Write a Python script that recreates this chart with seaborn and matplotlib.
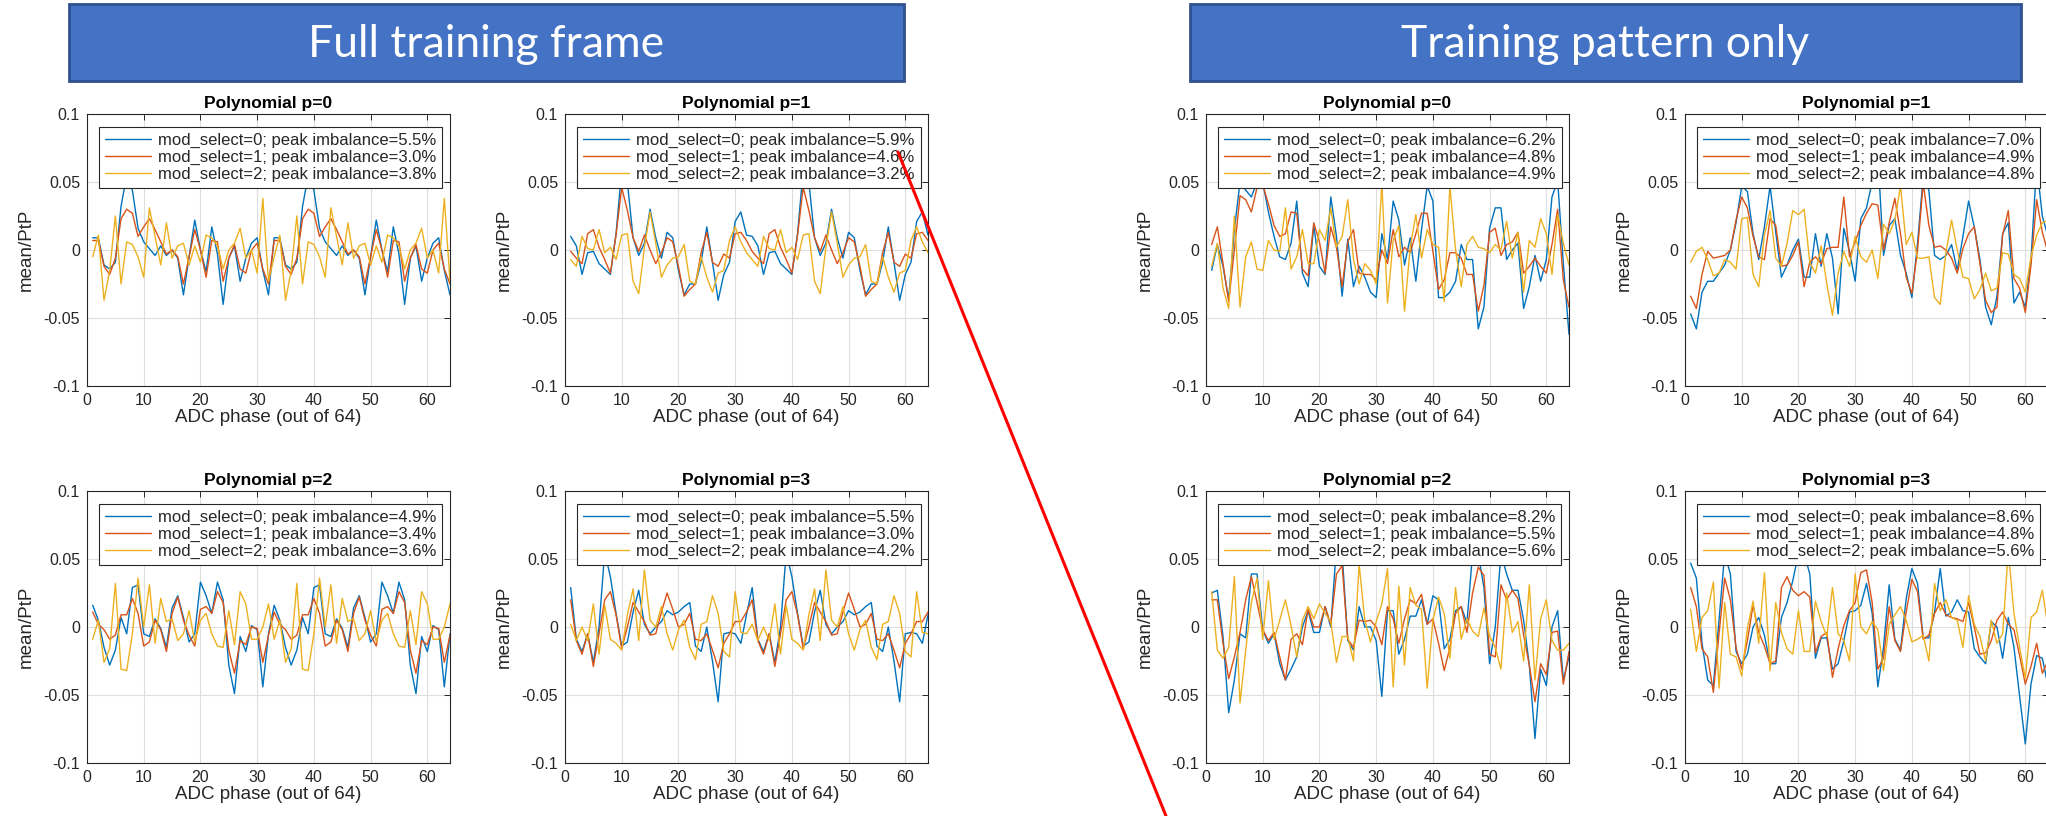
import matplotlib
matplotlib.use('Agg')
import matplotlib.pyplot as plt
from matplotlib.patches import Rectangle
from matplotlib.lines import Line2D
import numpy as np
import pandas as pd
import seaborn as sns

sns.set_theme(style='white')
plt.rcParams['font.family'] = ['Liberation Sans Narrow', 'Liberation Sans', 'DejaVu Sans']

# ADC phase index 1..64
phase = list(range(1, 65))

# values are mean/PtP in percent
# ---- Full training frame ----
full_p0_ms0 = [0.9, 0.9, -1.1, -1.4, -0.9, 3.2, 5.5, 4.4, 1.6, 0.6, 0.1, -0.4, 0.3, -0.4, 0.0, -0.6,
               -3.3, -0.5, 2.2, 0.0, -1.6, 1.7, -0.3, -4.0, -0.6, 0.3, -2.3, -0.6, 0.5, 0.9, -1.5, -3.3,
               0.9, 0.9, -1.1, -1.4, -0.9, 3.2, 5.5, 4.4, 1.6, 0.6, 0.1, -0.4, 0.3, -0.4, 0.0, -0.6,
               -3.3, -0.5, 2.2, 0.0, -1.6, 1.7, -0.3, -4.0, -0.6, 0.3, -2.3, -0.6, 0.5, 0.9, -1.5, -3.3]
full_p0_ms1 = [0.7, 0.7, -1.2, -1.8, -0.6, 2.3, 3.0, 2.7, 1.0, 1.7, 2.3, 1.5, 0.6, -0.3, 0.0, -0.5,
               -2.5, -0.5, 1.5, 0.0, -2.0, 0.7, 0.6, -2.3, -0.6, 0.4, -1.4, -1.7, 0.0, 0.5, -1.4, -2.5,
               0.7, 0.7, -1.2, -1.8, -0.6, 2.3, 3.0, 2.7, 1.0, 1.7, 2.3, 1.5, 0.6, -0.3, 0.0, -0.5,
               -2.5, -0.5, 1.5, 0.0, -2.0, 0.7, 0.6, -2.3, -0.6, 0.4, -1.4, -1.7, 0.0, 0.5, -1.4, -2.5]
full_p0_ms2 = [-0.5, 1.1, -3.7, -1.5, 2.5, -2.5, 0.6, 0.4, -0.5, -2.0, 3.1, 1.0, -1.1, 2.0, -0.6, 0.3,
               0.5, -1.1, 0.3, -0.9, 1.1, 0.9, 0.3, -1.4, 0.0, 0.5, 1.6, -0.6, 0.0, -1.7, 3.8, -2.3,
               -0.5, 1.1, -3.7, -1.5, 2.5, -2.5, 0.6, 0.4, -0.5, -2.0, 3.1, 1.0, -1.1, 2.0, -0.6, 0.3,
               0.5, -1.1, 0.3, -0.9, 1.1, 0.9, 0.3, -1.4, 0.0, 0.5, 1.6, -0.6, 0.0, -1.7, 3.8, -2.3]

full_p1_ms0 = [1.0, 0.3, -1.8, -0.2, -0.1, -1.0, -1.4, -1.8, 1.2, 5.9, 5.0, 0.9, -0.4, 0.5, 3.0, 0.9,
               -0.6, 1.3, 0.9, -1.5, -3.3, -2.5, -2.5, -0.9, 1.7, -0.9, -3.7, -1.8, -0.9, 2.1, 2.8, 1.1,
               1.0, 0.3, -1.8, -0.2, -0.1, -1.0, -1.4, -1.8, 1.2, 5.9, 5.0, 0.9, -0.4, 0.5, 3.0, 0.9,
               -0.6, 1.3, 0.9, -1.5, -3.3, -2.5, -2.5, -0.9, 1.7, -0.9, -3.7, -1.8, -0.9, 2.1, 2.8, 1.1]
full_p1_ms1 = [-0.1, -0.6, -1.0, 1.2, 1.5, 0.2, -0.7, -1.7, 1.1, 4.6, 2.9, 0.9, -0.1, 1.1, 0.0, -1.0,
               -0.2, 0.9, 0.6, -1.2, -3.4, -2.9, -2.5, -0.2, 1.3, -0.9, -1.2, -0.3, -0.6, 1.2, 1.3, 0.7,
               -0.1, -0.6, -1.0, 1.2, 1.5, 0.2, -0.7, -1.7, 1.1, 4.6, 2.9, 0.9, -0.1, 1.1, 0.0, -1.0,
               -0.2, 0.9, 0.6, -1.2, -3.4, -2.9, -2.5, -0.2, 1.3, -0.9, -1.2, -0.3, -0.6, 1.2, 1.3, 0.7]
full_p1_ms2 = [-0.7, -1.2, 1.0, 0.1, 0.0, 1.5, -0.2, 0.2, -0.7, 1.1, 1.2, -2.3, -3.2, 0.2, 2.8, 0.5,
               -2.0, -1.1, -0.6, -0.5, 0.4, -2.3, -2.5, -0.5, -2.0, -3.1, -1.7, -1.5, 0.7, 1.7, 0.6, -0.2,
               -0.7, -1.2, 1.0, 0.1, 0.0, 1.5, -0.2, 0.2, -0.7, 1.1, 1.2, -2.3, -3.2, 0.2, 2.8, 0.5,
               -2.0, -1.1, -0.6, -0.5, 0.4, -2.3, -2.5, -0.5, -2.0, -3.1, -1.7, -1.5, 0.7, 1.7, 0.6, -0.2]

full_p2_ms0 = [1.6, 0.5, -1.5, -2.8, -1.7, 0.7, -0.5, 2.9, 3.1, -0.5, -0.7, 0.6, -0.1, -1.5, 1.4, 2.3,
               0.7, -1.1, -0.5, 3.3, 2.3, 1.0, 3.3, 2.0, -2.8, -4.9, -0.7, -1.8, 0.1, -0.2, -4.4, -0.5,
               1.6, 0.5, -1.5, -2.8, -1.7, 0.7, -0.5, 2.9, 3.1, -0.5, -0.7, 0.6, -0.1, -1.5, 1.4, 2.3,
               0.7, -1.1, -0.5, 3.3, 2.3, 1.0, 3.3, 2.0, -2.8, -4.9, -0.7, -1.8, 0.1, -0.2, -4.4, -0.5]
full_p2_ms1 = [1.1, 0.2, -0.2, -0.9, -0.6, 0.9, 0.9, 2.1, 1.0, -1.4, -1.1, 0.5, -0.2, -1.8, 1.0, 2.2,
               0.5, -0.6, -1.4, 1.3, 1.5, 1.0, 2.6, 1.8, -1.7, -3.4, -1.0, -1.3, 0.0, -0.1, -2.6, -0.6,
               1.1, 0.2, -0.2, -0.9, -0.6, 0.9, 0.9, 2.1, 1.0, -1.4, -1.1, 0.5, -0.2, -1.8, 1.0, 2.2,
               0.5, -0.6, -1.4, 1.3, 1.5, 1.0, 2.6, 1.8, -1.7, -3.4, -1.0, -1.3, 0.0, -0.1, -2.6, -0.6]
full_p2_ms2 = [-0.9, 0.5, -2.6, -1.6, 3.2, -3.1, -3.2, -0.5, 3.6, 0.0, 3.1, -1.2, 2.1, 0.4, 0.6, -1.0,
               -0.5, 1.2, -1.1, 0.5, 1.0, -0.5, -1.4, -1.5, 1.2, -1.3, 2.6, 1.7, -0.9, -0.9, 0.0, 1.7,
               -0.9, 0.5, -2.6, -1.6, 3.2, -3.1, -3.2, -0.5, 3.6, 0.0, 3.1, -1.2, 2.1, 0.4, 0.6, -1.0,
               -0.5, 1.2, -1.1, 0.5, 1.0, -0.5, -1.4, -1.5, 1.2, -1.3, 2.6, 1.7, -0.9, -0.9, 0.0, 1.7]

full_p3_ms0 = [2.9, -0.9, -1.8, -0.5, -2.6, 0.0, 5.5, 3.7, 1.0, -1.4, -1.1, 1.1, 2.7, 0.2, -0.5, 0.0,
               0.4, 1.2, 0.9, 1.1, 1.5, 1.8, -1.4, -1.8, 0.0, -2.5, -5.5, -0.5, -0.4, -0.5, -1.2, 0.9,
               2.9, -0.9, -1.8, -0.5, -2.6, 0.0, 5.5, 3.7, 1.0, -1.4, -1.1, 1.1, 2.7, 0.2, -0.5, 0.0,
               0.4, 1.2, 0.9, 1.1, 1.5, 1.8, -1.4, -1.8, 0.0, -2.5, -5.5, -0.5, -0.4, -0.5, -1.2, 0.9]
full_p3_ms1 = [2.0, -1.0, -2.0, -0.5, -2.9, -0.5, 2.0, 2.6, 0.9, -1.6, 0.0, 1.8, 1.1, 0.4, -0.6, -0.5,
               1.1, 2.5, 1.3, 0.0, 0.2, 1.0, -0.9, -1.0, -0.5, -1.7, -3.0, -1.2, -0.5, 0.4, 0.4, 1.1,
               2.0, -1.0, -2.0, -0.5, -2.9, -0.5, 2.0, 2.6, 0.9, -1.6, 0.0, 1.8, 1.1, 0.4, -0.6, -0.5,
               1.1, 2.5, 1.3, 0.0, 0.2, 1.0, -0.9, -1.0, -0.5, -1.7, -3.0, -1.2, -0.5, 0.4, 0.4, 1.1]
full_p3_ms2 = [0.2, -1.0, 0.0, -1.0, 1.7, -2.0, 1.6, -0.9, -1.2, -1.7, 0.9, 2.8, -1.0, 4.2, 0.5, 0.0,
               1.5, -0.5, -1.7, -0.2, 0.5, -1.5, -2.4, 0.2, 0.4, 2.3, 1.0, -1.8, -2.2, 2.6, -0.4, -0.5,
               0.2, -1.0, 0.0, -1.0, 1.7, -2.0, 1.6, -0.9, -1.2, -1.7, 0.9, 2.8, -1.0, 4.2, 0.5, 0.0,
               1.5, -0.5, -1.7, -0.2, 0.5, -1.5, -2.4, 0.2, 0.4, 2.3, 1.0, -1.8, -2.2, 2.6, -0.4, -0.5]

# ---- Training pattern only ----
pat_p0_ms0 = [-1.5, 0.4, -1.2, -3.6, 1.5, 5.0, 4.4, 3.9, 5.0, 5.0, 2.8, 1.0, -0.5, -0.7, 0.5, 3.6,
              -1.7, -2.7, 1.8, -1.2, -1.8, 3.9, 1.0, -3.4, 0.8, -2.7, -1.2, -2.0, -3.1, -3.5, 1.2, -0.7,
              3.6, 2.2, -1.1, 0.9, -2.3, 1.5, 4.7, 3.6, -3.5, -3.5, -3.1, -2.3, 0.4, -0.7, -0.7, -5.8,
              -4.2, 1.6, 3.1, 3.1, -0.7, 0.0, 0.5, -4.3, -2.7, -0.4, -2.3, -0.7, 3.9, 5.1, -1.0, -6.2]
pat_p0_ms1 = [0.4, 1.7, -1.0, -3.8, 0.0, 4.0, 3.7, 2.8, 4.6, 4.8, 3.4, 1.8, 1.0, 1.2, 2.8, 2.7,
              -1.4, -1.9, 2.0, 0.6, -1.7, 1.7, 0.2, -2.7, 0.6, 1.5, -1.7, -1.8, -1.8, -2.2, 0.0, -1.0,
              1.5, -0.5, 0.2, -0.2, 1.2, 2.7, 2.7, -0.1, -2.9, -2.2, -0.2, -0.2, -0.6, -1.8, -1.8, -4.5,
              -2.6, 1.3, 1.6, -0.4, 0.4, 0.6, 1.3, -1.7, -1.2, -0.6, -1.2, -1.7, 0.4, 3.0, -2.2, -4.2]
pat_p0_ms2 = [-1.2, 0.5, -2.8, -4.3, 2.5, -4.2, -0.5, 0.6, -1.4, -1.5, 0.7, 0.0, -0.1, 3.1, -1.4, -0.5,
              1.5, -1.0, -1.0, 1.5, 0.7, 3.1, 0.2, 1.0, 3.7, -0.7, -2.5, -1.0, -1.5, -2.5, 4.9, -3.9,
              0.7, 1.8, -4.5, 0.2, 2.6, -0.6, 1.5, 0.4, 0.2, -3.8, 4.7, 0.0, -2.7, 0.4, 1.0, 0.2,
              0.1, -0.2, 0.4, 0.0, 2.1, -0.6, 1.3, -3.1, 0.7, 0.2, 2.3, 1.2, -1.8, 2.6, 0.5, -1.1]

pat_p1_ms0 = [-4.7, -5.8, -3.1, -2.3, -2.3, -1.7, -1.1, 0.0, 2.0, 4.7, 4.3, 1.2, -0.7, 1.7, 4.7, 1.3,
              -2.0, -1.1, 0.0, 0.8, -2.0, -2.0, 1.2, -1.2, 1.2, -0.6, -4.7, 1.6, -0.1, -2.3, 2.3, 3.1,
              5.0, 7.0, -0.4, 1.8, 2.3, -0.4, -1.7, -3.5, 0.5, 5.4, 4.4, -0.4, -0.7, -0.4, 0.4, -1.5,
              1.0, 3.6, 1.7, -0.7, -4.2, -5.5, -3.4, 1.2, 2.0, -3.9, -3.1, -4.2, -0.7, 6.3, 2.5, 1.0]
pat_p1_ms1 = [-3.4, -4.3, -1.8, -0.1, -0.6, -0.5, -0.4, 0.0, 2.2, 3.9, 3.1, 1.0, -0.5, -0.7, 2.3, 1.8,
              -1.2, -1.1, -0.4, 0.6, -2.7, -0.9, -0.5, -1.0, 0.1, 0.2, 0.2, 3.9, -0.5, 0.6, 1.8, 2.7,
              3.4, 3.3, 0.0, 2.0, 3.8, 1.2, -2.0, -3.2, 0.0, 4.9, 1.8, 0.2, 0.3, 0.0, -0.6, -1.7,
              0.1, 1.2, 1.7, -1.0, -3.7, -4.6, -4.2, 1.1, 2.9, -2.1, -2.8, -4.6, -1.1, 3.7, 1.3, -0.2]
pat_p1_ms2 = [-0.9, -0.1, 0.2, -0.7, -1.9, -1.7, -0.7, -0.9, -1.4, 2.3, 2.4, -1.8, -2.7, 1.1, 2.9, -0.6,
              -1.2, 0.5, 2.9, 2.6, 3.0, -0.9, -1.7, 0.3, -2.5, -4.8, -1.7, -0.1, -1.2, 1.0, -0.5, -0.9,
              0.0, -2.1, 1.9, 1.2, 2.2, 4.7, 0.4, 1.3, -0.6, -0.6, -0.5, -3.5, -4.0, -0.2, 2.2, 0.0,
              -2.0, -2.1, -3.6, -2.9, -1.7, -3.0, -2.8, -0.2, -0.3, -1.8, -2.1, -3.1, -0.5, 1.1, 2.0, 2.2]

pat_p2_ms0 = [2.5, 2.7, -0.7, -6.3, -3.9, -0.5, -0.8, 3.9, 3.9, -0.2, -1.2, -0.5, -2.7, -3.9, -3.1, -2.2,
              0.0, 1.2, -0.4, -0.4, 1.5, 0.0, 5.9, 5.4, -1.0, -1.7, 1.5, 0.0, 0.0, -1.0, -5.1, 1.2,
              1.2, -2.0, -0.9, 0.8, 0.8, 2.0, 0.2, 2.3, 2.0, -1.6, -0.9, 1.2, 1.5, 0.3, 5.4, 5.4,
              2.9, -2.7, 0.0, 5.4, 3.9, 2.7, 2.7, 0.5, -2.8, -8.2, -3.1, -4.3, 0.0, 1.2, -3.9, -2.2]
pat_p2_ms1 = [2.0, 2.0, -1.2, -3.8, -2.2, -0.4, 2.0, 3.7, 1.8, -0.2, -1.0, -0.4, -2.2, -3.9, -0.9, -0.5,
              -1.3, 1.3, 0.0, 0.0, 1.5, 0.2, 3.9, 4.5, -0.9, -1.5, 0.5, 0.4, 0.5, 0.0, -1.3, 1.5,
              0.6, -1.2, 0.6, 2.0, 1.7, 2.4, 0.2, 0.6, -1.2, -3.2, -1.5, 1.0, 1.5, -0.4, 2.5, 4.4,
              3.8, -2.0, -2.2, 3.1, 2.0, 2.7, 2.1, -0.6, -2.8, -5.5, -2.7, -3.5, -0.4, -0.3, -4.2, -1.8]
pat_p2_ms2 = [2.6, -1.7, -2.3, -1.5, 3.7, -5.6, -1.7, 1.8, 3.6, -0.9, 3.4, -0.9, 0.5, 2.0, 0.1, -2.2,
              0.5, 1.5, 0.6, 1.7, 1.0, 0.4, -2.6, -0.7, -0.7, -2.5, 4.6, 0.5, -1.1, 0.4, 1.7, 4.3,
              -4.4, 3.0, -2.8, 2.9, 1.6, 1.3, -4.5, 0.5, 2.2, 1.0, -2.3, 2.9, -0.9, 0.6, -0.3, -0.7,
              1.4, -0.7, -1.5, -3.1, 2.5, -0.4, 0.4, -2.5, 3.1, -3.9, 0.6, 2.0, -1.0, -1.7, -1.7, -1.2]

pat_p3_ms0 = [4.7, 3.6, -1.2, -3.9, -4.3, 0.5, 5.4, 3.9, -1.8, -2.7, -2.0, 0.0, 0.7, -0.6, -2.7, -2.7,
              0.7, 1.8, 3.4, 5.4, 5.4, 3.9, -2.3, -0.8, -0.8, -3.1, -2.7, -1.0, 1.1, 1.2, 1.6, 3.2,
              1.0, -4.4, -1.5, 3.1, -0.9, -1.7, 2.1, 4.3, 3.2, -0.8, -0.8, 1.1, 4.3, 0.8, 1.1, 2.0,
              1.2, 1.1, -1.6, -2.2, -2.7, 0.4, 0.0, -2.3, 0.7, -1.5, -5.1, -8.6, -4.2, -2.1, -2.3, -4.3]
pat_p3_ms1 = [2.9, 1.5, -1.6, -2.2, -4.8, -0.5, 3.6, 2.0, -1.5, -3.1, -1.0, 1.6, -0.4, -1.4, -2.7, -2.5,
              2.9, 3.7, 2.7, 2.3, 2.6, 2.2, -1.9, -0.7, -0.4, -3.7, -1.6, 0.1, 1.2, 1.8, 4.0, 4.2,
              1.8, -3.1, -2.3, 1.5, -1.0, -1.8, 1.1, 3.5, 2.6, -0.9, -0.6, 1.0, 1.8, 0.9, 0.7, 0.6,
              0.4, 1.8, 0.0, -2.0, -1.9, -1.0, 0.5, 1.1, 0.2, -0.2, -2.1, -4.2, -2.9, -1.2, -3.4, -2.5]
pat_p3_ms2 = [1.3, -1.8, 0.7, 1.2, 3.3, -4.5, 1.8, -2.0, -2.2, -3.6, -0.1, 1.9, -1.2, 4.0, -3.2, 1.8,
              -0.4, -1.6, -2.0, 1.2, -1.8, -1.8, 1.9, 0.4, -0.7, 2.9, -0.5, -1.0, -2.5, 3.9, 0.0, -0.5,
              0.4, -0.2, -3.2, 0.2, 0.9, 1.5, 0.5, -1.1, -0.9, -0.6, -2.5, 3.2, 1.2, 2.0, 0.7, 0.5,
              -1.5, 2.3, 0.2, -0.7, -2.5, 0.5, -1.2, -0.5, 5.6, 1.0, -1.5, -3.8, 0.7, 1.1, 2.7, 0.0]

# peak imbalance as printed in each legend (percent)
peaks = {
    ('full', 0): ['5.5', '3.0', '3.8'],
    ('full', 1): ['5.9', '4.6', '3.2'],
    ('full', 2): ['4.9', '3.4', '3.6'],
    ('full', 3): ['5.5', '3.0', '4.2'],
    ('pat', 0): ['6.2', '4.8', '4.9'],
    ('pat', 1): ['7.0', '4.9', '4.8'],
    ('pat', 2): ['8.2', '5.5', '5.6'],
    ('pat', 3): ['8.6', '4.8', '5.6'],
}

series = {
    ('full', 0): [full_p0_ms0, full_p0_ms1, full_p0_ms2],
    ('full', 1): [full_p1_ms0, full_p1_ms1, full_p1_ms2],
    ('full', 2): [full_p2_ms0, full_p2_ms1, full_p2_ms2],
    ('full', 3): [full_p3_ms0, full_p3_ms1, full_p3_ms2],
    ('pat', 0): [pat_p0_ms0, pat_p0_ms1, pat_p0_ms2],
    ('pat', 1): [pat_p1_ms0, pat_p1_ms1, pat_p1_ms2],
    ('pat', 2): [pat_p2_ms0, pat_p2_ms1, pat_p2_ms2],
    ('pat', 3): [pat_p3_ms0, pat_p3_ms1, pat_p3_ms2],
}

colors = ['#0072BD', '#D95319', '#EDB120']
W, H = 2046, 816

fig = plt.figure(figsize=(W / 100, H / 100), dpi=100)
fig.patch.set_facecolor('white')

# axes boxes in pixel coordinates (left, top)
col_left = {('full', 0): 87, ('full', 1): 565, ('pat', 0): 1206, ('pat', 1): 1685}
row_top = {0: 114, 1: 491}
ax_w, ax_h = 363, 272

narrow = ['Liberation Sans Narrow', 'Liberation Sans', 'DejaVu Sans']
regular = ['Liberation Sans', 'DejaVu Sans']

for (frame, p), vals in series.items():
    col = (frame, p % 2)
    row = p // 2
    left = col_left[col]
    top = row_top[row]
    ax = fig.add_axes([left / W, 1 - (top + ax_h) / H, ax_w / W, ax_h / H])
    ax.set_facecolor('white')

    for ms, (v, c) in enumerate(zip(vals, colors)):
        df = pd.DataFrame({'phase': phase, 'val': np.array(v) / 100.0})
        sns.lineplot(data=df, x='phase', y='val', ax=ax, color=c, linewidth=1.0,
                     label=f'mod_select={ms}; peak imbalance={peaks[(frame, p)][ms]}%')

    ax.set_xlim(0, 64)
    ax.set_ylim(-0.1, 0.1)
    ax.set_xticks([0, 10, 20, 30, 40, 50, 60])
    ax.set_yticks([-0.1, -0.05, 0, 0.05, 0.1])
    ax.set_yticklabels(['-0.1', '-0.05', '0', '0.05', '0.1'])
    ax.grid(True, color='#DEDEDE', linewidth=0.8)
    ax.set_axisbelow(True)
    ax.tick_params(direction='in', length=4, width=0.7, top=True, right=True,
                   labelsize=11.5, colors='#262626', pad=5)
    for lab in ax.get_xticklabels() + ax.get_yticklabels():
        lab.set_family(narrow)
    for s in ax.spines.values():
        s.set_color('#262626')
        s.set_linewidth(0.8)
    ax.set_title(f'Polynomial p={p}', fontsize=12.5, fontweight='bold', family=narrow,
                 color='black', pad=4)
    ax.set_xlabel('ADC phase (out of 64)', fontsize=13.5, family=narrow, color='#262626', labelpad=1)
    ax.set_ylabel('mean/PtP', fontsize=13.5, family=narrow, color='#262626', labelpad=6)

    leg = ax.legend(loc='upper left', bbox_to_anchor=(12 / ax_w, 1 - 13 / ax_h), borderaxespad=0,
                    fancybox=False, framealpha=1, edgecolor='#262626',
                    handlelength=2.75, handletextpad=0.45, labelspacing=0.12, borderpad=0.35,
                    prop={'family': regular, 'size': 12.0})
    leg.get_frame().set_linewidth(0.8)

# banners
banners = [('Full training frame', 69, 904), ('Training pattern only', 1190, 2021)]
for text, x0, x1 in banners:
    y0, y1 = 4, 81
    rect = Rectangle((x0 / W, 1 - y1 / H), (x1 - x0) / W, (y1 - y0) / H, transform=fig.transFigure,
                     facecolor='#4472C4', edgecolor='#2F528F', linewidth=2)
    fig.patches.append(rect)
    fig.text((x0 + x1) / 2 / W, 1 - (y0 + y1 + 4) / 2 / H, text, ha='center', va='center',
             color='white', fontsize=32, family=['Lato', 'DejaVu Sans'], fontweight='normal')

# red connector line
fig.add_artist(Line2D([898 / W, 1166 / W], [1 - 152 / H, 0], transform=fig.transFigure,
                      color='red', linewidth=2.2))

fig.savefig('out.png', dpi=100)
